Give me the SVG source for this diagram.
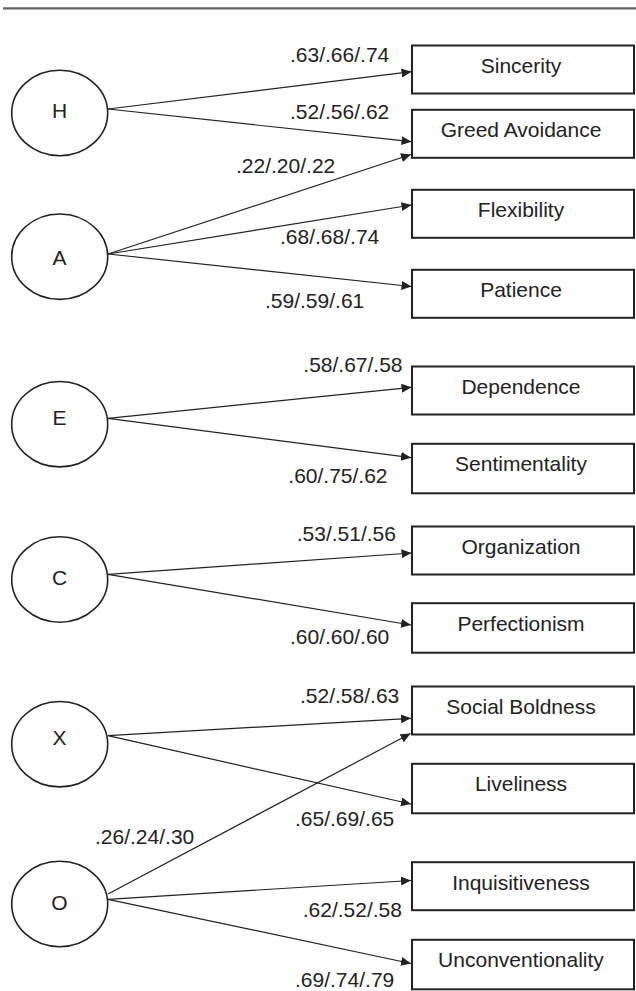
<svg xmlns="http://www.w3.org/2000/svg" width="636" height="991" viewBox="0 0 636 991">
<style>
.bg{fill:#ffffff}
.rule{stroke:#666666;stroke-width:2.2}
.lat ellipse{fill:#ffffff;stroke:#222222;stroke-width:1.6}
.obs rect{fill:#ffffff;stroke:#222222;stroke-width:2}
text{font-family:"Liberation Sans",Arial,sans-serif;font-size:21px;fill:#222222}
.c{text-anchor:middle}
#connectors line{stroke:#222222;stroke-width:1.2;fill:none}
</style>
<defs>
<marker id="arr" markerUnits="userSpaceOnUse" markerWidth="11" markerHeight="10" refX="10" refY="4.5" orient="auto">
<path d="M0,0 L10,4.5 L0,9 z" fill="#222222"/>
</marker>
</defs>
<rect class="bg" x="0" y="0" width="636" height="991"/>
<line class="rule" x1="3" y1="8.3" x2="636" y2="8.3"/>

<g id="connectors">
<line x1="108" y1="109" x2="411.5" y2="71.7" marker-end="url(#arr)"/>
<line x1="108" y1="109" x2="411.5" y2="141.7" marker-end="url(#arr)"/>
<line x1="108" y1="254" x2="411" y2="154.5" marker-end="url(#arr)"/>
<line x1="108" y1="254" x2="411.5" y2="205" marker-end="url(#arr)"/>
<line x1="108" y1="254" x2="411.5" y2="286.5" marker-end="url(#arr)"/>
<line x1="108" y1="418.3" x2="411.5" y2="387.3" marker-end="url(#arr)"/>
<line x1="108" y1="418.3" x2="411" y2="457.7" marker-end="url(#arr)"/>
<line x1="108" y1="574.3" x2="411.5" y2="553" marker-end="url(#arr)"/>
<line x1="108" y1="574.3" x2="411" y2="625" marker-end="url(#arr)"/>
<line x1="108" y1="735.7" x2="411" y2="718.3" marker-end="url(#arr)"/>
<line x1="108" y1="735.7" x2="411" y2="804" marker-end="url(#arr)"/>
<line x1="108" y1="894" x2="410.5" y2="733.5" marker-end="url(#arr)"/>
<line x1="108" y1="899.3" x2="411" y2="880.5" marker-end="url(#arr)"/>
<line x1="108" y1="899.3" x2="411" y2="963.5" marker-end="url(#arr)"/>
<text x="290" y="61.7">.63/.66/.74</text>
<text x="290" y="119">.52/.56/.62</text>
<text x="236" y="172.7">.22/.20/.22</text>
<text x="280" y="244.3">.68/.68/.74</text>
<text x="265" y="308.3">.59/.59/.61</text>
<text x="303.3" y="372.3">.58/.67/.58</text>
<text x="288.3" y="483.3">.60/.75/.62</text>
<text x="296.7" y="540.7">.53/.51/.56</text>
<text x="290" y="644">.60/.60/.60</text>
<text x="300" y="702.7">.52/.58/.63</text>
<text x="295" y="826">.65/.69/.65</text>
<text x="95" y="844">.26/.24/.30</text>
<text x="302.7" y="916.7">.62/.52/.58</text>
<text x="295" y="986.7">.69/.74/.79</text>
</g>

<g id="H" class="lat"><ellipse cx="59.7" cy="113" rx="48" ry="42.7"/><text class="c" x="59.5" y="118.3">H</text></g>
<g id="A" class="lat"><ellipse cx="59.7" cy="256.7" rx="48" ry="42.7"/><text class="c" x="59.5" y="265">A</text></g>
<g id="E" class="lat"><ellipse cx="59.7" cy="424.2" rx="48" ry="42.7"/><text class="c" x="59.5" y="425">E</text></g>
<g id="C" class="lat"><ellipse cx="59.7" cy="579.5" rx="48" ry="42.7"/><text class="c" x="59.5" y="585">C</text></g>
<g id="X" class="lat"><ellipse cx="59.7" cy="744.2" rx="48" ry="42.7"/><text class="c" x="59.5" y="745">X</text></g>
<g id="O" class="lat"><ellipse cx="59.7" cy="904" rx="48" ry="42.7"/><text class="c" x="59.5" y="910">O</text></g>

<g id="sincerity" class="obs"><rect x="412" y="45.5" width="222" height="48"/><text class="c" x="521" y="72.5">Sincerity</text></g>
<g id="greed" class="obs"><rect x="412" y="109.8" width="222" height="48"/><text class="c" x="521" y="137.3">Greed Avoidance</text></g>
<g id="flexibility" class="obs"><rect x="412" y="189.8" width="222" height="48"/><text class="c" x="521" y="217.3">Flexibility</text></g>
<g id="patience" class="obs"><rect x="412" y="269.8" width="222" height="48"/><text class="c" x="521" y="297.3">Patience</text></g>
<g id="dependence" class="obs"><rect x="412" y="366.5" width="222" height="48"/><text class="c" x="521" y="393.5">Dependence</text></g>
<g id="sentimentality" class="obs"><rect x="412" y="443.8" width="222" height="49.5"/><text class="c" x="521" y="471">Sentimentality</text></g>
<g id="organization" class="obs"><rect x="412" y="526.5" width="222" height="48"/><text class="c" x="521" y="553.5">Organization</text></g>
<g id="perfectionism" class="obs"><rect x="412" y="603.2" width="222" height="49.5"/><text class="c" x="521" y="630.5">Perfectionism</text></g>
<g id="socialboldness" class="obs"><rect x="412" y="686.5" width="222" height="48"/><text class="c" x="521" y="713.5">Social Boldness</text></g>
<g id="liveliness" class="obs"><rect x="412" y="763.8" width="222" height="49.5"/><text class="c" x="521" y="791">Liveliness</text></g>
<g id="inquisitiveness" class="obs"><rect x="412" y="862.2" width="222" height="48"/><text class="c" x="521" y="889.5">Inquisitiveness</text></g>
<g id="unconventionality" class="obs"><rect x="412" y="939.8" width="222" height="49.5"/><text class="c" x="521" y="967">Unconventionality</text></g>
</svg>
